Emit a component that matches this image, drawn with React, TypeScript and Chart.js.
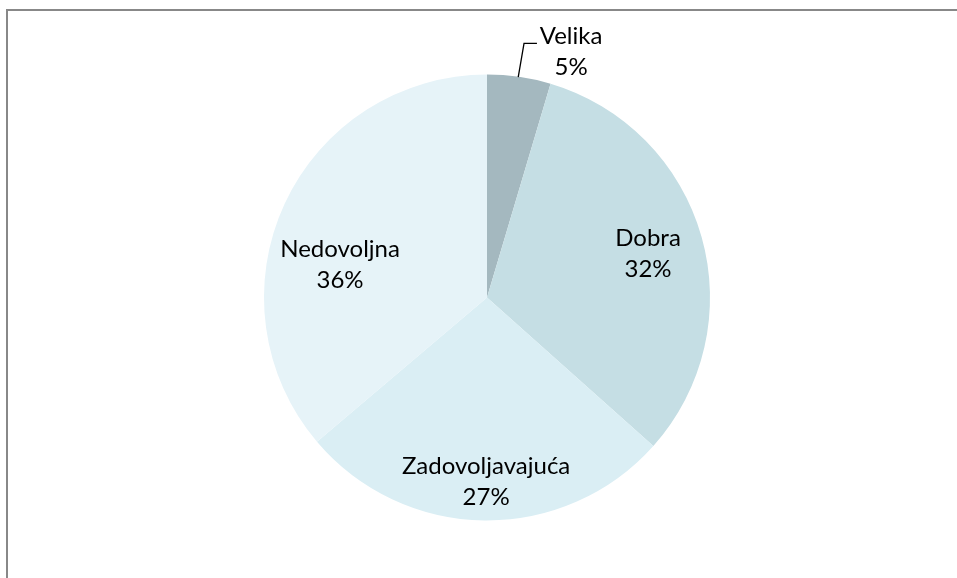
import React, { useEffect, useRef } from "react";
import { Chart, registerables } from "chart.js";

Chart.register(...registerables);

const categories = ["Velika", "Dobra", "Zadovoljavajuća", "Nedovoljna"];
const shares = [4.6, 32.0, 27.2, 36.2];
const colors = ["#A4B8BF", "#C5DEE4", "#DAEEF4", "#E6F3F8"];

// label anchor offsets relative to pie centre, in units of radius
const labelOffsets = [
  [0.377, -1.103],
  [0.722, -0.195],
  [-0.004, 0.825],
  [-0.659, -0.145],
];

const FONT = "Lato, 'Noto Sans', sans-serif";

const labelPlugin = {
  id: "pieLabels",
  afterDatasetsDraw(chart: any) {
    const meta = chart.getDatasetMeta(0);
    const ctx = chart.ctx;
    const first = meta.data[0];
    if (!first) return;
    const cx = first.x;
    const cy = first.y;
    const r = first.outerRadius;
    const total = shares.reduce((a, b) => a + b, 0);
    ctx.save();
    ctx.font = "24px " + FONT;
    ctx.fillStyle = "#000";
    ctx.textAlign = "center";
    ctx.textBaseline = "middle";
    const lh = 31;
    meta.data.forEach((arc: any, i: number) => {
      const [ox, oy] = labelOffsets[i];
      const x = cx + ox * r;
      const y = cy + oy * r;
      ctx.fillText(categories[i], x, y - lh / 2);
      ctx.fillText(Math.round((shares[i] / total) * 100) + "%", x, y + lh / 2);
    });
    // leader line for small slice
    ctx.strokeStyle = "#000";
    ctx.lineWidth = 1.3;
    ctx.beginPath();
    ctx.moveTo(cx + 0.14 * r, cy - 0.988 * r);
    ctx.lineTo(cx + 0.166 * r, cy - 1.14 * r);
    ctx.lineTo(cx + 0.224 * r, cy - 1.14 * r);
    ctx.stroke();
    ctx.restore();
  },
};

export default function App() {
  const ref = useRef<HTMLCanvasElement | null>(null);
  useEffect(() => {
    if (!ref.current) return;
    const chart = new Chart(ref.current, {
      type: "pie",
      data: {
        labels: categories,
        datasets: [
          {
            data: shares,
            backgroundColor: colors,
            borderWidth: 0,
          },
        ],
      },
      options: {
        animation: false,
        responsive: false,
        maintainAspectRatio: false,
        layout: { padding: { left: 264, right: 247, top: 74.5, bottom: 57.5 } },
        plugins: {
          legend: { display: false },
          tooltip: { enabled: false },
        },
      },
      plugins: [labelPlugin],
    });
    return () => chart.destroy();
  }, []);
  return (
    <div
      style={{
        position: "fixed",
        left: 0,
        top: 0,
        width: 957,
        height: 578,
        overflow: "hidden",
        background: "#fff",
      }}
    >
      <div
        style={{
          position: "absolute",
          left: 6,
          top: 9,
          width: 1000,
          height: 1000,
          borderLeft: "2px solid #888",
          borderTop: "2px solid #888",
          boxSizing: "border-box",
        }}
      />
      <canvas
        ref={ref}
        width={957}
        height={578}
        style={{ position: "absolute", left: 0, top: 0, width: 957, height: 578 }}
      />
    </div>
  );
}
